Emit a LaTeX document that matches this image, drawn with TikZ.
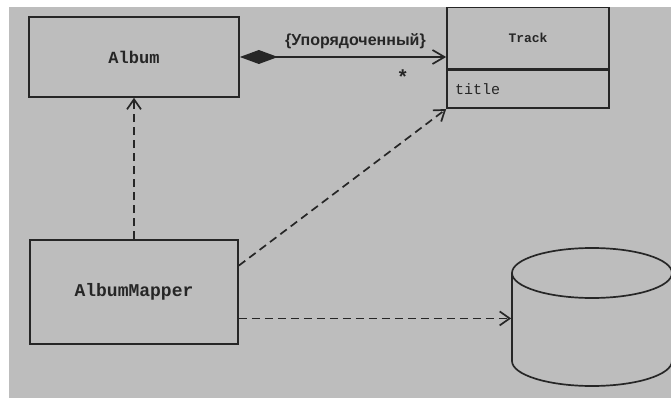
\documentclass[tikz,border=0pt]{standalone}
\usepackage{fontspec}
\setmainfont{Liberation Sans}
\setmonofont{Liberation Mono}
\usetikzlibrary{positioning,calc,arrows.meta}
\definecolor{paper}{HTML}{BDBDBD}
\definecolor{inkcol}{HTML}{262626}

\begin{document}
\begin{tikzpicture}[x=1pt,y=-1pt,line width=1.7pt,draw=inkcol,text=inkcol]
  \useasboundingbox (0,0) rectangle (671,398);
  \fill[white] (0,0) rectangle (671,398);
  \fill[paper] (9,7) rectangle (671,398);
  \tikzset{cls/.style={draw=inkcol,line width=1.7pt,font=\ttfamily},
           dep/.style={draw=inkcol,dash pattern=on 8pt off 5pt,-{Straight Barb[length=10pt,width=14pt]}}}
  \node[cls,minimum width=210pt,minimum height=80pt,font=\ttfamily\bfseries\fontsize{17}{17}\selectfont] (album) at (134,57) {Album};
  \node[cls,minimum width=162pt,minimum height=61pt,font=\ttfamily\bfseries\fontsize{13}{13}\selectfont] (track) at (528,38) {Track};
  \node[cls,minimum width=162pt,minimum height=38pt,anchor=north,align=left,text width=146pt,font=\ttfamily\fontsize{15}{15}\selectfont] (title) at (track.south) {title};
  \node[cls,minimum width=208pt,minimum height=104pt,font=\ttfamily\bfseries\fontsize{18}{18}\selectfont] (mapper) at (134,292) {AlbumMapper};
  % database
  \node[minimum width=160pt,minimum height=138pt,inner sep=0pt] (db) at (592,317) {};
  \draw[inkcol] (592,273) ellipse[x radius=80,y radius=25];
  \draw[inkcol] (512,273) -- (512,361) arc[start angle=180,end angle=0,x radius=80,y radius=25] -- (672,273);
  % connectors
  \draw[inkcol,{Diamond[length=38pt,width=14pt]}-{Straight Barb[length=12pt,width=14pt]}] (album.east) -- (album.east -| track.west)
    node[pos=0.56,above=4pt,font=\bfseries\fontsize{16}{16}\selectfont] (order) {\{Упорядоченный\}}
    node[pos=0.79,below=9pt,font=\bfseries\fontsize{20}{20}\selectfont] (many) {*};
  \draw[dep] (mapper.north) -- (album.south);
  \draw[dep] ($(mapper.north east)!0.25!(mapper.south east)$) -- (track.south west |- title.south);
  \draw[dep] ($(mapper.north east)!0.75!(mapper.south east)$) -- (db.west |- {$(mapper.north east)!0.75!(mapper.south east)$});
\end{tikzpicture}
\end{document}
